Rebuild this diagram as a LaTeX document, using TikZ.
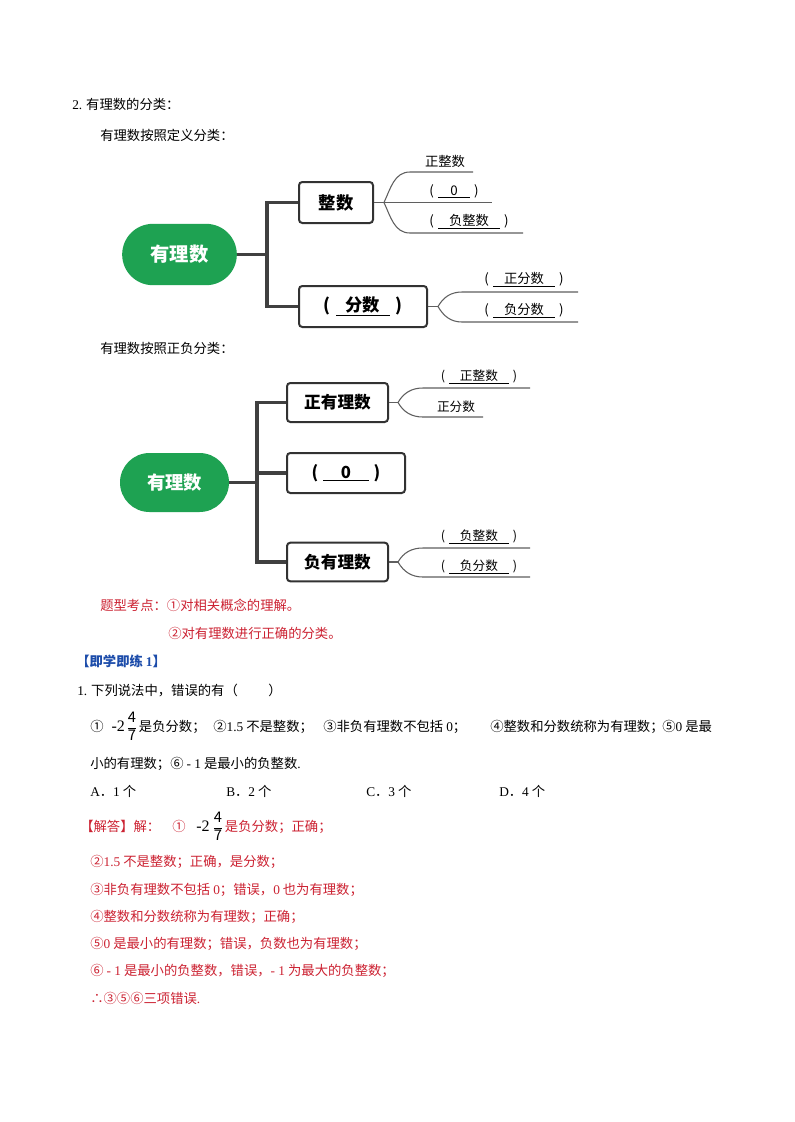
\documentclass[tikz,border=0pt]{standalone}
\usepackage{fontspec}
\usepackage{amsmath}
\setmainfont{Noto Sans CJK SC}
\newfontfamily\lat{Liberation Serif}
\usetikzlibrary{shapes.misc}

\definecolor{mindgreen}{RGB}{30,162,82}
\definecolor{boxgray}{RGB}{50,50,50}
\definecolor{trunkgray}{RGB}{64,64,64}
\definecolor{twiggray}{RGB}{95,95,95}
\definecolor{notered}{RGB}{204,34,50}
\definecolor{practiceblue}{RGB}{28,76,170}

\newcommand\fillin[2]{(\hspace{0.3em}\underline{\makebox[#1]{#2}}\hspace{0.3em})}
\newcommand\sevenths{$\genfrac{}{}{0.4pt}{0}{\hbox{\fontsize{11pt}{12pt}\selectfont 4}}{\hbox{\fontsize{11pt}{12pt}\selectfont 7}}$}
\newcommand\minustwo{{\lat\fontsize{12pt}{12pt}\selectfont -2}}
\newcommand\piece[2]{\makebox[#1][l]{#2}}

\begin{document}
\begin{tikzpicture}[x=0.75pt, y=-0.75pt,
    rootnode/.style={rounded rectangle, fill=mindgreen, text=white, inner sep=0pt},
    boxnode/.style={rectangle, draw=boxgray, line width=1.5pt, rounded corners=2.5pt, inner sep=0pt},
    trunk/.style={draw=trunkgray, line width=2.3pt},
    twig/.style={draw=twiggray, line width=0.8pt},
    leaf/.style={inner sep=0pt, font=\fontsize{10pt}{12pt}\selectfont},
    txt/.style={anchor=west, inner sep=0pt, font=\fontsize{10pt}{12pt}\selectfont}]

  \useasboundingbox[fill=white] (0,0) rectangle (794,1122);

  % Headings
  \node[txt] (head) at (72,104) {{\lat 2.} 有理数的分类：};
  \node[txt] (bydef) at (100,135) {有理数按照定义分类：};

  % First map
  \node[rootnode, minimum width=86pt, minimum height=46pt, font=\fontsize{14.5pt}{16pt}\selectfont\bfseries] (q1) at (179.5,254.5) {有理数};
  \node[boxnode, minimum width=55.5pt, minimum height=30.75pt, font=\fontsize{13pt}{15pt}\selectfont\bfseries] (z1) at (336,202.5) {整数};
  \node[boxnode, minimum width=96pt, minimum height=30.75pt, font=\fontsize{13pt}{15pt}\selectfont\bfseries] (f1) at (363,306.5) {\fillin{40.5pt}{分数}};

  \coordinate (j1) at (267,254.5);
  \draw[trunk] (q1.east) -- (j1);
  \draw[trunk] (z1.west) -| (j1) |- (f1.west);

  % Leaves of the first map
  \coordinate (z1s) at (384,202.5);
  \coordinate (z1aL) at (410,172); \coordinate (z1aR) at (473,172);
  \coordinate (z1bR) at (492,202.5);
  \coordinate (z1cL) at (410,233); \coordinate (z1cR) at (523,233);
  \draw[twig] (z1.east) -- (z1s) -- (z1bR);
  \draw[twig] (z1s) to[out=65,in=180] (z1aL) -- (z1aR);
  \draw[twig] (z1s) to[out=-65,in=180] (z1cL) -- (z1cR);
  \node[leaf] (z1at) at (445,161) {正整数};
  \node[leaf] (z1bt) at (454,191) {\fillin{24pt}{0}};
  \node[leaf] (z1ct) at (469,222) {\fillin{46.5pt}{负整数}};

  \coordinate (f1s) at (438,306.5);
  \coordinate (f1aL) at (462,292); \coordinate (f1aR) at (578,292);
  \coordinate (f1bL) at (462,322); \coordinate (f1bR) at (578,322);
  \draw[twig] (f1.east) -- (f1s);
  \draw[twig] (f1s) to[out=60,in=180] (f1aL) -- (f1aR);
  \draw[twig] (f1s) to[out=-60,in=180] (f1bL) -- (f1bR);
  \node[leaf] (f1at) at (524,280) {\fillin{46.5pt}{正分数}};
  \node[leaf] (f1bt) at (524,311) {\fillin{46.5pt}{负分数}};

  \node[txt] (bysign) at (100,348) {有理数按照正负分类：};

  % Second map
  \node[rootnode, minimum width=81.75pt, minimum height=44.25pt, font=\fontsize{13.75pt}{15pt}\selectfont\bfseries] (q2) at (174.5,482.5) {有理数};
  \node[boxnode, minimum width=75.75pt, minimum height=29.25pt, font=\fontsize{12.5pt}{14pt}\selectfont\bfseries] (p2) at (337.5,402.5) {正有理数};
  \node[boxnode, minimum width=88.5pt, minimum height=30pt, font=\fontsize{12.5pt}{14pt}\selectfont\bfseries] (o2) at (346,473) {\fillin{34pt}{0}};
  \node[boxnode, minimum width=75.75pt, minimum height=29pt, font=\fontsize{12.5pt}{14pt}\selectfont\bfseries] (n2) at (337.5,562) {负有理数};

  \coordinate (j2) at (257,482.5);
  \draw[trunk] (q2.east) -- (j2);
  \draw[trunk] (p2.west) -| (j2) |- (n2.west);
  \draw[trunk] (o2.west) -- (o2.west -| j2);

  % Leaves of the second map
  \coordinate (p2s) at (398,402.5);
  \coordinate (p2aL) at (423,388); \coordinate (p2aR) at (530,388);
  \coordinate (p2bL) at (423,417); \coordinate (p2bR) at (483,417);
  \draw[twig] (p2.east) -- (p2s);
  \draw[twig] (p2s) to[out=60,in=180] (p2aL) -- (p2aR);
  \draw[twig] (p2s) to[out=-60,in=180] (p2bL) -- (p2bR);
  \node[leaf, font=\fontsize{9.5pt}{11pt}\selectfont] (p2at) at (479,377) {\fillin{45pt}{正整数}};
  \node[leaf, font=\fontsize{9.5pt}{11pt}\selectfont] (p2bt) at (456,407) {正分数};

  \coordinate (n2s) at (398,562);
  \coordinate (n2aL) at (423,548); \coordinate (n2aR) at (530,548);
  \coordinate (n2bL) at (423,577); \coordinate (n2bR) at (530,577);
  \draw[twig] (n2.east) -- (n2s);
  \draw[twig] (n2s) to[out=60,in=180] (n2aL) -- (n2aR);
  \draw[twig] (n2s) to[out=-60,in=180] (n2bL) -- (n2bR);
  \node[leaf, font=\fontsize{9.5pt}{11pt}\selectfont] (n2at) at (479,537) {\fillin{45pt}{负整数}};
  \node[leaf, font=\fontsize{9.5pt}{11pt}\selectfont] (n2bt) at (479,567) {\fillin{45pt}{负分数}};

  % Key points
  \node[txt, text=notered] (key1) at (100,605) {题型考点：①对相关概念的理解。};
  \node[txt, text=notered] (key2) at (168,633) {②对有理数进行正确的分类。};

  % Practice
  \node[txt, text=practiceblue, font=\fontsize{10pt}{12pt}\selectfont\bfseries] (prac) at (76,661) {【即学即练 {\lat\bfseries 1}】};
  \node[txt] (ques) at (77,690) {{\lat 1.} 下列说法中，错误的有（\quad\quad\;）};
  \node[txt] (stmt1) at (90,726) {%
    \piece{92.25pt}{①\hspace{6pt}\minustwo\hspace{1pt}\sevenths\hspace{1pt}是负分数；}%
    \piece{82.5pt}{②{\lat 1.5} 不是整数；}%
    \piece{125.25pt}{③非负有理数不包括 {\lat 0}；}%
    \piece{129pt}{④整数和分数统称为有理数；}%
    \piece{45pt}{⑤{\lat 0} 是最}};
  \node[txt] (stmt2) at (90,764) {小的有理数；⑥ {\lat - 1} 是最小的负整数{\lat .}};
  \node[txt] (optA) at (90,791) {{\lat A}．{\lat 1} 个};
  \node[txt] (optB) at (226,791) {{\lat B}．{\lat 2} 个};
  \node[txt] (optC) at (366,791) {{\lat C}．{\lat 3} 个};
  \node[txt] (optD) at (499,791) {{\lat D}．{\lat 4} 个};

  % Answer
  \node[txt, text=notered] (ans0) at (80,826) {【解答】解：};
  \node[txt, text=notered] (ans0b) at (172,826) {①\hspace{8pt}\textcolor{black}{\minustwo\hspace{2pt}\sevenths}\hspace{1pt}是负分数；正确；};
  \node[txt, text=notered] (ans1) at (90,862) {②{\lat 1.5} 不是整数；正确，是分数；};
  \node[txt, text=notered] (ans2) at (90,890) {③非负有理数不包括 {\lat 0}；错误，{\lat 0} 也为有理数；};
  \node[txt, text=notered] (ans3) at (90,917) {④整数和分数统称为有理数；正确；};
  \node[txt, text=notered] (ans4) at (90,944) {⑤{\lat 0} 是最小的有理数；错误，负数也为有理数；};
  \node[txt, text=notered] (ans5) at (90,971) {⑥ {\lat - 1} 是最小的负整数，错误，{\lat - 1} 为最大的负整数；};
  \node[txt, text=notered] (ans6) at (90,998) {∴③⑤⑥三项错误{\lat .}};

\end{tikzpicture}
\end{document}
